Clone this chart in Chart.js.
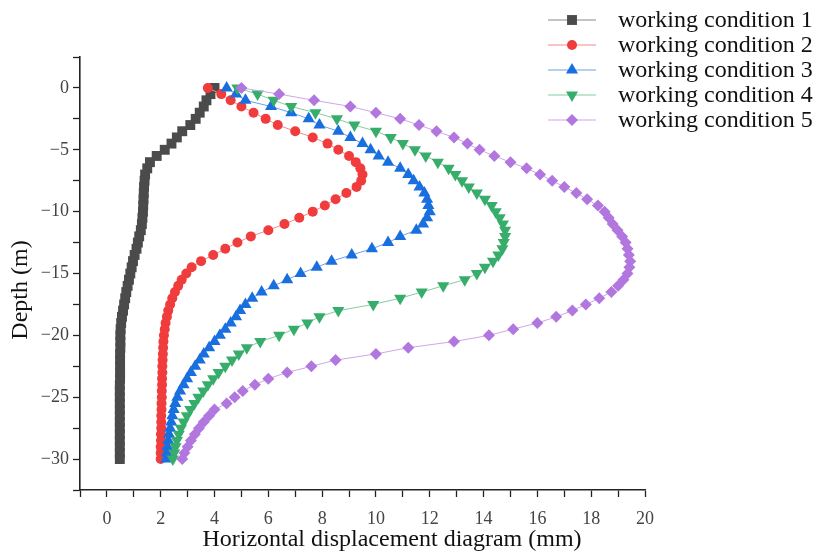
<!DOCTYPE html>
<html>
<head>
<meta charset="utf-8">
<script src="https://cdn.jsdelivr.net/npm/chart.js@4/dist/chart.umd.min.js"></script>
<style>
  html, body { margin: 0; padding: 0; background: #fff; overflow: hidden; }
  #grafico { display: block; }
</style>
</head>
<body>
<canvas id="grafico" width="816" height="552"></canvas>
<script>
// profundidade (m), uma leitura a cada 0,5 m
var depth = [0, -0.5, -1, -1.5, -2, -2.5, -3, -3.5, -4, -4.5, -5, -5.5, -6, -6.5, -7, -7.5, -8, -8.5, -9, -9.5,
  -10, -10.5, -11, -11.5, -12, -12.5, -13, -13.5, -14, -14.5, -15, -15.5, -16, -16.5, -17, -17.5, -18, -18.5, -19, -19.5,
  -20, -20.5, -21, -21.5, -22, -22.5, -23, -23.5, -24, -24.5, -25, -25.5, -26, -26.5, -27, -27.5, -28, -28.5, -29, -29.5, -30];

var cond1 = [4.0, 3.85, 3.7, 3.6, 3.45, 3.3, 3.1, 2.8, 2.6, 2.4, 2.15, 1.85, 1.6, 1.5, 1.42, 1.4, 1.38, 1.37, 1.36, 1.35,
  1.34, 1.32, 1.3, 1.26, 1.2, 1.15, 1.1, 1.03, 0.97, 0.92, 0.87, 0.82, 0.77, 0.72, 0.68, 0.64, 0.6, 0.56, 0.53, 0.51,
  0.5, 0.5, 0.5, 0.49, 0.49, 0.49, 0.49, 0.49, 0.48, 0.48, 0.48, 0.48, 0.48, 0.48, 0.48, 0.48, 0.48, 0.48, 0.48, 0.48, 0.48];

var cond2 = [3.75, 4.25, 4.6, 5.0, 5.45, 5.9, 6.35, 7.0, 7.65, 8.2, 8.6, 9.0, 9.25, 9.42, 9.5, 9.45, 9.28, 8.9, 8.5, 8.1,
  7.65, 7.15, 6.6, 6.0, 5.35, 4.85, 4.4, 3.95, 3.5, 3.15, 2.95, 2.78, 2.65, 2.53, 2.43, 2.35, 2.28, 2.23, 2.18, 2.15,
  2.12, 2.1, 2.09, 2.08, 2.07, 2.06, 2.06, 2.05, 2.05, 2.04, 2.04, 2.03, 2.03, 2.02, 2.02, 2.02, 2.01, 2.01, 2.0, 2.0, 2.0];

var cond3 = [4.45, 4.8, 5.15, 6.1, 6.85, 7.5, 7.9, 8.6, 9.05, 9.5, 9.8, 10.1, 10.45, 10.9, 11.2, 11.4, 11.62, 11.8, 11.9, 11.95,
  12.0, 11.9, 11.75, 11.5, 10.9, 10.45, 9.85, 9.1, 8.35, 7.8, 7.2, 6.7, 6.2, 5.75, 5.4, 5.15, 4.95, 4.8, 4.6, 4.4,
  4.2, 4.0, 3.8, 3.6, 3.45, 3.28, 3.12, 2.98, 2.85, 2.72, 2.62, 2.54, 2.48, 2.43, 2.39, 2.35, 2.31, 2.28, 2.25, 2.22, 2.2];

var cond4 = [4.85, 5.6, 6.2, 6.85, 7.75, 8.55, 9.2, 10.0, 10.55, 11.0, 11.45, 11.85, 12.3, 12.7, 12.95, 13.2, 13.45, 13.75, 14.05, 14.3,
  14.45, 14.6, 14.72, 14.8, 14.8, 14.75, 14.7, 14.55, 14.35, 14.05, 13.75, 13.3, 12.5, 11.7, 10.9, 9.9, 8.6, 7.9, 7.45, 6.95,
  6.4, 5.7, 5.2, 4.9, 4.65, 4.4, 4.15, 3.95, 3.75, 3.58, 3.4, 3.25, 3.1, 2.97, 2.85, 2.75, 2.67, 2.6, 2.55, 2.5, 2.45];

var cond5 = [5.0, 6.4, 7.7, 9.05, 10.0, 10.9, 11.6, 12.25, 12.9, 13.4, 13.85, 14.4, 15.0, 15.6, 16.1, 16.55, 17.0, 17.45, 17.85, 18.25,
  18.5, 18.65, 18.8, 18.98, 19.15, 19.28, 19.35, 19.4, 19.45, 19.42, 19.35, 19.2, 19.0, 18.75, 18.3, 17.8, 17.3, 16.7, 16.0, 15.1,
  14.2, 12.9, 11.2, 10.0, 8.5, 7.6, 6.7, 6.0, 5.5, 5.05, 4.75, 4.45, 4.0, 3.8, 3.6, 3.42, 3.27, 3.12, 3.0, 2.88, 2.8];

var nomes = ['working condition 1', 'working condition 2', 'working condition 3', 'working condition 4', 'working condition 5'];
var xTicks = [0, 2, 4, 6, 8, 10, 12, 14, 16, 18, 20];
var yTicks = [0, -5, -10, -15, -20, -25, -30];

var SERIF = '"Liberation Serif", "Times New Roman", serif';

var estilos = [
  { cor: '#4b4b4b', linha: '#8a8a8a', ponto: 'rect', raio: 7, rot: 0 },
  { cor: '#f03c3c', linha: '#f28a8a', ponto: 'circle', raio: 5, rot: 0 },
  { cor: '#1a6fdf', linha: '#6a9fe8', ponto: 'triangle', raio: 7, rot: 0 },
  { cor: '#37ad6b', linha: '#84cda0', ponto: 'triangle', raio: 7, rot: 180 },
  { cor: '#b177de', linha: '#cca6ea', ponto: 'rectRot', raio: 6, rot: 0 }
];

function juntaPontos(xs) {
  var pts = [];
  for (var i = 0; i < depth.length; i++) {
    pts.push({ x: xs[i], y: depth[i] });
  }
  return pts;
}

var series = [cond1, cond2, cond3, cond4, cond5];
var datasets = [];
for (var i = 0; i < series.length; i++) {
  var e = estilos[i];
  datasets.push({
    label: nomes[i],
    data: juntaPontos(series[i]),
    borderColor: e.linha,
    borderWidth: 1,
    backgroundColor: e.cor,
    pointBackgroundColor: e.cor,
    pointBorderWidth: 0,
    pointStyle: e.ponto,
    pointRadius: e.raio,
    pointRotation: e.rot,
    pointHoverRadius: e.raio,
    order: series.length - i,
    tension: 0
  });
}

function menos(v) {
  return v < 0 ? '\u2212' + Math.abs(v) : '' + v;
}

// legenda e titulos dos eixos desenhados a mao
var extras = {
  id: 'extras',
  afterDraw: function (chart) {
    var ctx = chart.ctx;
    ctx.save();
    for (var i = 0; i < nomes.length; i++) {
      var e = estilos[i];
      var y = 20 + 25 * i;
      ctx.strokeStyle = e.linha;
      ctx.lineWidth = 1.2;
      ctx.beginPath();
      ctx.moveTo(548, y);
      ctx.lineTo(596, y);
      ctx.stroke();
      ctx.fillStyle = e.cor;
      Chart.helpers.drawPoint(ctx, { pointStyle: e.ponto, radius: e.raio, rotation: e.rot, borderWidth: 0 }, 572, y);
      ctx.fillStyle = '#111';
      ctx.font = '24px ' + SERIF;
      ctx.textAlign = 'left';
      ctx.textBaseline = 'middle';
      ctx.fillText(nomes[i], 618, y + 1);
    }

    ctx.fillStyle = '#111';
    ctx.font = '24px ' + SERIF;
    ctx.textAlign = 'center';
    ctx.textBaseline = 'middle';
    ctx.fillText('Horizontal displacement diagram (mm)', 392, 540);

    ctx.translate(21, 290);
    ctx.rotate(-Math.PI / 2);
    ctx.fillText('Depth (m)', 0, 0);
    ctx.restore();
  }
};

var ctx = document.getElementById('grafico').getContext('2d');
var chart = new Chart(ctx, {
  type: 'line',
  data: { datasets: datasets },
  plugins: [extras],
  options: {
    responsive: false,
    animation: false,
    devicePixelRatio: 1,
    layout: { padding: { left: 0, right: 171, top: 57, bottom: 0 } },
    plugins: {
      legend: { display: false },
      tooltip: { enabled: false }
    },
    scales: {
      x: {
        type: 'linear',
        min: -1,
        max: 20,
        afterFit: function (s) { s.height = 62; },
        ticks: {
          stepSize: 1,
          autoSkip: false,
          maxRotation: 0,
          padding: 11,
          color: '#444',
          font: { family: SERIF, size: 18 },
          callback: function (v) { return xTicks.indexOf(v) >= 0 ? '' + v : ''; }
        },
        grid: { drawOnChartArea: false, drawTicks: true, tickLength: 7, color: '#222', tickWidth: 1.3 },
        border: { display: true, color: '#222', width: 1.6 }
      },
      y: {
        type: 'linear',
        min: -32.5,
        max: 2.5,
        afterFit: function (s) { s.width = 80; },
        ticks: {
          stepSize: 2.5,
          autoSkip: false,
          padding: 4,
          color: '#444',
          font: { family: SERIF, size: 18 },
          callback: function (v) { return yTicks.indexOf(v) >= 0 ? menos(v) : ''; }
        },
        grid: { drawOnChartArea: false, drawTicks: true, tickLength: 7, color: '#222', tickWidth: 1.3 },
        border: { display: true, color: '#222', width: 1.6 }
      }
    }
  }
});
</script>
</body>
</html>
